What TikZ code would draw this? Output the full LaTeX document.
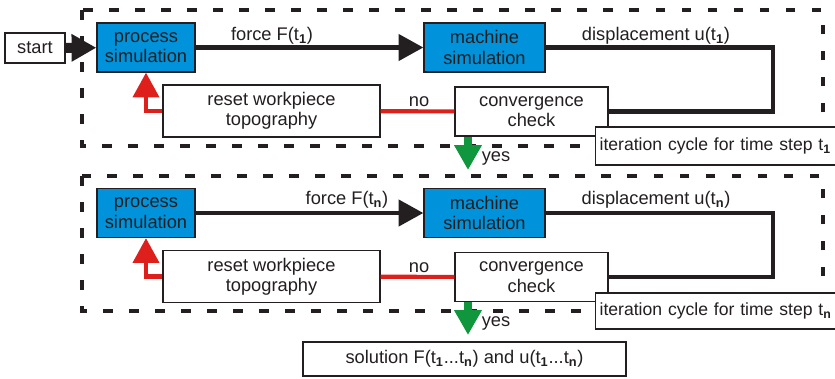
\documentclass[tikz,border=0pt]{standalone}
\usepackage{fontspec}
\setmainfont{Liberation Sans}
\usepackage{xcolor}
\usetikzlibrary{arrows.meta,positioning}
\definecolor{simblue}{RGB}{0,146,218}
\definecolor{resetred}{RGB}{222,32,28}
\definecolor{yesgreen}{RGB}{16,150,60}
\definecolor{inkgray}{RGB}{35,31,32}
\newcommand{\sub}[1]{\textsubscript{\textbf{#1}}}

\begin{document}
\begin{tikzpicture}[x=0.025cm, y=-0.025cm, >=Stealth,
		font=\fontsize{13}{14.5}\selectfont, text=inkgray,
		simbox/.style={draw=inkgray, fill=simblue, line width=0.9pt, align=center, inner sep=0pt},
		plainbox/.style={draw=inkgray, fill=white, line width=0.9pt, align=center, inner sep=0pt},
		iterbox/.style={plainbox, anchor=west, text width=6.1cm, inner xsep=0.1cm, align=left, font=\fontsize{12.5}{14}\selectfont},
		cycleframe/.style={draw=inkgray, line width=3.2pt, dash pattern=on 7pt off 11.5pt},
		bigtip/.style={-{Triangle[length=6.2mm, width=6.5mm]}},
		flowline/.style={draw=inkgray, line width=3.2pt},
		resetline/.style={draw=resetred, line width=2.9pt},
		yesline/.style={draw=yesgreen, line width=5pt}]
		\useasboundingbox (0,0) rectangle (835,378);
		% dashed frames of the two iteration cycles
		\draw[cycleframe] (82,10) rectangle (823,146);
		\draw[cycleframe] (82,176) rectangle (823,311);
		% first time step
		\node[plainbox, minimum width=1.5cm, minimum height=0.75cm] (start) at (35,48) {start};
		\node[simbox, minimum width=2.45cm, minimum height=1.225cm] (procA) at (146,47.5) {process\\simulation};
		\node[simbox, minimum width=3.025cm, minimum height=1.225cm] (machA) at (484.5,47.5) {machine\\simulation};
		\node[plainbox, minimum width=5.425cm, minimum height=1.3cm] (resetA) at (271.5,111) {reset workpiece\\topography};
		\node[plainbox, minimum width=3.825cm, minimum height=1.225cm] (convA) at (531.5,111.5) {convergence\\check};
		\node[iterbox, minimum height=0.95cm] (iterA) at (595,146) {iteration cycle for time step t\sub{1}};
		\draw[flowline, bigtip, line width=7pt] (start) -- (procA);
		\draw[flowline, bigtip] (procA) -- (machA);
		\node (forceA) at (272,36) {force F(t\sub{1})};
		\draw[flowline] (machA.east) -- (773,47.5) |- (convA.east);
		\node (dispA) at (656,36) {displacement u(t\sub{1})};
		\draw[resetline] (convA) -- (resetA);
		\node (noA) at (419,102) {no};
		\draw[resetline, bigtip] (resetA.west) -| (procA.south);
		\coordinate (yesA) at (468,170);
		\draw[yesline, bigtip] (convA.south west -| yesA) -- (yesA);
		\node (yesAlabel) at (496,158) {yes};
		% time step n
		\node[simbox, minimum width=2.45cm, minimum height=1.225cm] (procB) at (146,213) {process\\simulation};
		\node[simbox, minimum width=3.025cm, minimum height=1.225cm] (machB) at (484.5,213) {machine\\simulation};
		\node[plainbox, minimum width=5.425cm, minimum height=1.3cm] (resetB) at (271.5,276.5) {reset workpiece\\topography};
		\node[plainbox, minimum width=3.825cm, minimum height=1.225cm] (convB) at (531.5,277) {convergence\\check};
		\node[iterbox, minimum height=0.9cm] (iterB) at (595,311) {iteration cycle for time step t\sub{n}};
		\draw[flowline, bigtip] (procB) -- (machB);
		\node (forceB) at (347,200) {force F(t\sub{n})};
		\draw[flowline] (machB.east) -- (773,213) |- (convB.east);
		\node (dispB) at (656,200) {displacement u(t\sub{n})};
		\draw[resetline] (convB) -- (resetB);
		\node (noB) at (419,267.5) {no};
		\draw[resetline, bigtip] (resetB.west) -| (procB.south);
		\coordinate (yesB) at (468,335);
		\draw[yesline, bigtip] (convB.south west -| yesB) -- (yesB);
		\node (yesBlabel) at (496,323.5) {yes};
		% result
		\node[plainbox, minimum width=8.075cm, minimum height=0.85cm] (solution) at (464.5,359) {solution F(t\sub{1}...t\sub{n}) and u(t\sub{1}...t\sub{n})};
	\end{tikzpicture}
\end{document}
